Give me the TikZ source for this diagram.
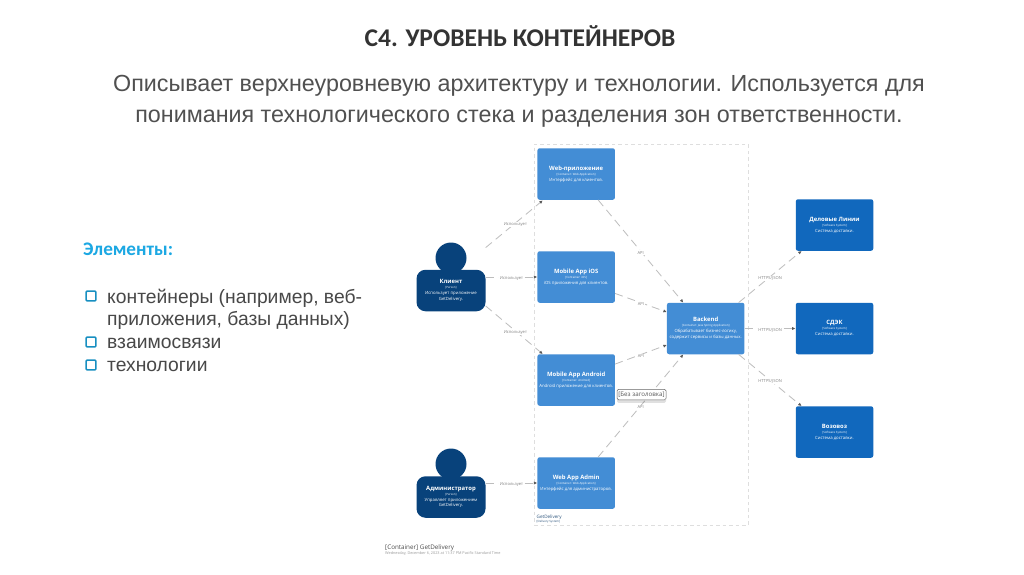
\documentclass[tikz,border=0pt]{standalone}
\usepackage{fontspec}
\setmainfont{Open Sans}
\newfontfamily\arialf{Liberation Sans}
\newfontfamily\calib{Carlito}
\usetikzlibrary{calc,shadows,arrows.meta}
\definecolor{contc}{HTML}{438DD5}
\definecolor{extc}{HTML}{1168BD}
\definecolor{persc}{HTML}{08427B}
\definecolor{linkc}{HTML}{BDBDBD}
\definecolor{labc}{HTML}{808080}
\definecolor{headc}{HTML}{333333}
\definecolor{subc}{HTML}{505050}
\definecolor{listc}{HTML}{484848}
\definecolor{accent}{HTML}{1CA8E3}
\tikzset{
 x=1pt,y=-1pt,
 boxbase/.style={rectangle,rounded corners=2.2pt,minimum width=77.5pt,minimum height=51.5pt,text=white,align=center,inner sep=1pt,font=\fontsize{4.3}{5.6}\selectfont},
 cont/.style={boxbase,fill=contc},
 ext/.style={boxbase,fill=extc},
 person/.style={boxbase,fill=persc,rounded corners=9pt,minimum width=69pt,minimum height=41.5pt},
 head/.style={circle,fill=persc,minimum size=31pt,inner sep=0pt},
 link/.style={draw=linkc,line width=0.8pt,dash pattern=on 8pt off 5pt,-{Latex[length=3.4pt,width=3.2pt,color=gray!70!black]}},
 lab/.style={font=\fontsize{4.1}{5}\selectfont,text=labc,fill=white,inner sep=0.8pt,yshift=-1.5pt},
 bound/.style={draw=black!13,line width=0.7pt,dash pattern=on 3.5pt off 3pt},
 tick/.style={draw=accent!85!black,line width=1.5pt,rounded corners=0.8pt,minimum size=9.6pt,inner sep=0pt,fill=white},
 listt/.style={anchor=base west,inner sep=0pt,text=listc,font=\arialf\fontsize{19.3}{19}\selectfont},
}
\newcommand{\bt}[1]{{\fontsize{5.9}{7.2}\selectfont\bfseries #1}\\[-0.5pt]}
\newcommand{\st}[1]{{\fontsize{2.9}{3.6}\selectfont #1}\\[0.4pt]}
\begin{document}
\begin{tikzpicture}
\useasboundingbox (0,0) rectangle (1024,574);
\fill[white] (0,0) rectangle (1024,574);
% headings
\node[font=\calib\bfseries\fontsize{25.5}{25}\selectfont,text=headc,inner sep=0pt] (title) at (520,36.5) {С4. УРОВЕНЬ КОНТЕЙНЕРОВ};
\node[font=\arialf\fontsize{23.3}{31}\selectfont,text=subc,align=center,inner sep=0pt] (sub) at (519,101.5) {Описывает верхнеуровневую архитектуру и технологии. Используется для\\понимания технологического стека и разделения зон ответственности.};
% left list
\node[anchor=base west,inner sep=0pt,text=accent,font=\calib\bfseries\fontsize{19.2}{19}\selectfont] (el) at (83,255) {Элементы:};
\node[tick] (t1) at (91,296) {};
\node[tick] (t2) at (91,342) {};
\node[tick] (t3) at (91,365) {};
\node[listt] (l1) at (107,303) {контейнеры (например, веб-};
\node[listt] (l2) at (107,325.5) {приложения, базы данных)};
\node[listt] (l3) at (107,348.5) {взаимосвязи};
\node[listt] (l4) at (107,371.5) {технологии};
% boundary
\node[bound,rectangle,minimum width=214pt,minimum height=381pt,inner sep=0pt] (sys) at (641,334.5) {};
\node[anchor=west,inner sep=0pt,font=\fontsize{4.6}{5}\selectfont,text=persc!70!gray] (sysn) at (536.5,517) {GetDelivery};
\node[anchor=west,inner sep=0pt,font=\fontsize{2.9}{4}\selectfont,text=persc!70!gray] (syss) at (536.5,521.8) {[Delivery System]};
% containers
\node[cont] (web) at (576.2,174) {\bt{Web-приложение}\st{[Container: Web Application]}Интерфейс для клиентов.};
\node[cont] (ios) at (576.2,277) {\bt{Mobile App iOS}\st{[Container: iOS]}iOS приложения для клиентов.};
\node[cont] (and) at (576.2,380) {\bt{Mobile App Android}\st{[Container: Android]}Android приложение для клиентов.};
\node[cont] (adm) at (576.2,483) {\bt{Web App Admin}\st{[Container: Web Application]}Интерфейс для администраторов.};
\node[cont] (be) at (705.7,328.5) {\bt{Backend}\st{[Container: Java Spring Application]}Обрабатывает бизнес-логику,\\содержит сервисы и базы данных.};
% external
\node[ext] (dl) at (834.5,225) {\bt{Деловые Линии}\st{[Software System]}Система доставки.};
\node[ext] (cd) at (834.5,328.5) {\bt{СДЭК}\st{[Software System]}Система доставки.};
\node[ext] (vz) at (834.5,432) {\bt{Возовоз}\st{[Software System]}Система доставки.};
% people
\node[head] (h1) at (451,258) {};
\node[person] (cl) at (451,290.5) {\bt{Клиент}\st{[Person]}Использует приложение\\GetDelivery.};
\node[head] (h2) at (451,464) {};
\node[person] (ad) at (451,497) {\bt{Администратор}\st{[Person]}Управляет приложением\\GetDelivery.};
% connectors
\draw[link] ($(cl.north east)+(0,-22)$) -- node[lab,pos=.52]{Использует} ($(web.south west)+(5.5,0.5)$);
\draw[link] ($(cl.east)+(0,-13.5)$) -- node[lab]{Использует} (ios.west);
\draw[link] ($(cl.south east)+(0,-5.5)$) -- node[lab,pos=.52]{Использует} ($(and.north west)+(5.5,0)$);
\draw[link] ($(ad.east)+(0,-14)$) -- node[lab]{Использует} (adm.west);
\draw[link] ($(web.south east)+(-17,0)$) -- node[lab]{API} ($(be.north west)+(16.5,0)$);
\draw[link] ($(ios.south east)+(0,-9.5)$) -- node[lab]{API} ($(be.north west)+(0,9.5)$);
\draw[link] ($(and.north east)+(0,10)$) -- node[lab]{API} ($(be.south west)+(0,-9.5)$);
\draw[link] ($(adm.north east)+(-17,0)$) -- node[lab,pos=0.5]{API} ($(be.south west)+(16.5,0)$);
\draw[link] ($(be.north east)+(-6,0)$) -- node[lab]{HTTPS/JSON} ($(dl.south west)+(6,0)$);
\draw[link] (be.east) -- node[lab]{HTTPS/JSON} (cd.west);
\draw[link] ($(be.south east)+(-6,0)$) -- node[lab]{HTTPS/JSON} ($(vz.north west)+(6,0)$);
% tooltip
\node[rectangle,draw=black!60,rounded corners=1.4pt,fill=white,line width=0.5pt,inner xsep=1pt,inner ysep=1pt,minimum width=49pt,minimum height=10.5pt,font=\fontsize{6.2}{7}\selectfont,text=black!65,drop shadow={shadow xshift=0pt,shadow yshift=-3pt,opacity=0.12,fill=black}] (tip) at (641.5,394.5) {[Без заголовка]};
% footer
\node[anchor=base west,inner sep=0pt,font=\fontsize{6.3}{7}\selectfont,text=black!70] (f1) at (385,549.5) {[Container] GetDelivery};
\node[anchor=base west,inner sep=0pt,font=\fontsize{3.8}{4}\selectfont,text=black!40] (f2) at (385,554.5) {Wednesday, December 6, 2023 at 11:37 PM Pacific Standard Time};
\end{tikzpicture}
\end{document}
